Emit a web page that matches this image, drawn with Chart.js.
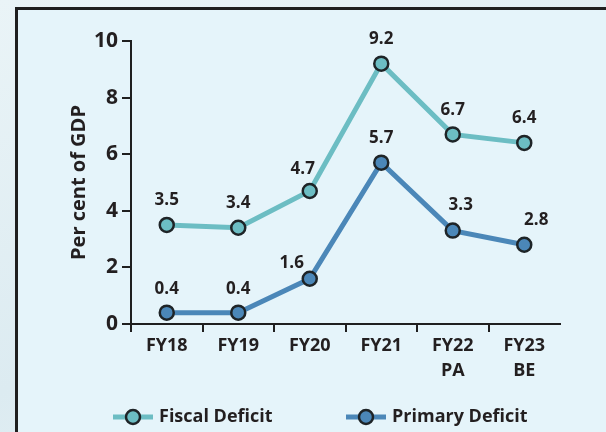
<!DOCTYPE html>
<html>
<head>
<meta charset="utf-8">
<script src="https://cdn.jsdelivr.net/npm/chart.js@4.4.1/dist/chart.umd.min.js"></script>
<style>
  html, body { margin: 0; padding: 0; }
  body {
    width: 606px; height: 432px; overflow: hidden; position: relative;
    background: linear-gradient(160deg, #eaf4f7 0%, #dcebf1 60%, #e6f1f5 100%);
  }
  #frame {
    position: absolute; left: 15px; top: 7px; width: 640px; height: 460px;
    border: 3px solid #1f1f1f; background: #e5f4fa;
  }
  #chart { position: absolute; left: 0; top: 0; }
</style>
</head>
<body>
<div id="frame"></div>
<canvas id="chart" width="606" height="432"></canvas>
<script>
"use strict";
// values as printed on the chart (per cent of GDP)
const years = ['FY18', 'FY19', 'FY20', 'FY21', ['FY22', 'PA'], ['FY23', 'BE']];
const fiscalDeficit = [3.5, 3.4, 4.7, 9.2, 6.7, 6.4];
const primaryDeficit = [0.4, 0.4, 1.6, 5.7, 3.3, 2.8];
const yTicks = [0, 2, 4, 6, 8, 10];

const textColor = '#231f20';
const fiscalColor = '#6cbdc3';
const primaryColor = '#4b87b8';
const dotEdge = '#1e2427';
const axisColor = '#1f1f1f';
const font = "'Open Sans', 'Noto Sans', sans-serif";

// small nudges so value labels sit where the original puts them
const fiscalShift = [[0, 25], [0, 25], [-7, 22], [0, 24], [0, 24], [0, 25]];
const primaryShift = [[0, 24], [0, 24], [-18, 16], [0, 25], [8, 25], [12, 25]];

const valueLabels = {
    id: 'valueLabels',
    afterDatasetsDraw(chart) {
        const ctx = chart.ctx;
        const shifts = [fiscalShift, primaryShift];
        ctx.save();
        ctx.font = 'bold 17px ' + font;
        ctx.fillStyle = textColor;
        ctx.textAlign = 'center';
        ctx.textBaseline = 'middle';
        chart.data.datasets.forEach((ds, d) => {
            const meta = chart.getDatasetMeta(d);
            meta.data.forEach((pt, i) => {
                const s = shifts[d][i];
                ctx.fillText(ds.data[i].toFixed(1), pt.x + s[0], pt.y - s[1]);
            });
        });
        ctx.restore();
    }
};

// legend drawn as line + dot, like the original
const lineLegend = {
    id: 'lineLegend',
    afterDraw(chart) {
        const ctx = chart.ctx;
        const starts = [113, 346];
        const y = 417;
        ctx.save();
        chart.data.datasets.forEach((ds, d) => {
            const x0 = starts[d];
            ctx.strokeStyle = ds.borderColor;
            ctx.lineWidth = 5;
            ctx.beginPath();
            ctx.moveTo(x0, y);
            ctx.lineTo(x0 + 40, y);
            ctx.stroke();
            ctx.beginPath();
            ctx.arc(x0 + 20, y, 7, 0, Math.PI * 2);
            ctx.fillStyle = ds.pointBackgroundColor;
            ctx.fill();
            ctx.lineWidth = 2.5;
            ctx.strokeStyle = dotEdge;
            ctx.stroke();
            ctx.font = 'bold 18px ' + font;
            ctx.fillStyle = textColor;
            ctx.textAlign = 'left';
            ctx.textBaseline = 'middle';
            ctx.fillText(ds.label, x0 + 46, y);
        });
        ctx.restore();
    }
};

const chart = new Chart(document.getElementById('chart'), {
    type: 'line',
    data: {
        labels: years,
        datasets: [
            {
                label: 'Fiscal Deficit',
                data: fiscalDeficit,
                borderColor: fiscalColor,
                backgroundColor: fiscalColor,
                pointBackgroundColor: fiscalColor,
                pointBorderColor: dotEdge,
                borderWidth: 5,
                pointRadius: 7,
                pointBorderWidth: 2.5,
                tension: 0
            },
            {
                label: 'Primary Deficit',
                data: primaryDeficit,
                borderColor: primaryColor,
                backgroundColor: primaryColor,
                pointBackgroundColor: primaryColor,
                pointBorderColor: dotEdge,
                borderWidth: 5,
                pointRadius: 7,
                pointBorderWidth: 2.5,
                tension: 0
            }
        ]
    },
    options: {
        responsive: false,
        animation: false,
        layout: { padding: { left: 40, right: 46, top: 41, bottom: 0 } },
        plugins: {
            legend: { display: false },
            tooltip: { enabled: false }
        },
        scales: {
            x: {
                offset: true,
                afterFit(scale) { scale.height = 108; },
                grid: {
                    offset: true,
                    drawOnChartArea: false,
                    drawTicks: true,
                    tickLength: 8,
                    lineWidth: 2,
                    // no tick at the far right end of the axis
                    color: (c) => c.type === 'tick' ? axisColor : 'rgba(0,0,0,0)'
                },
                border: { display: true, color: axisColor, width: 2 },
                ticks: {
                    color: textColor,
                    padding: 2,
                    maxRotation: 0,
                    font: { family: font, size: 18, weight: 'bold', lineHeight: 1.36 }
                }
            },
            y: {
                min: 0,
                max: 10,
                afterFit(scale) { scale.width = 91; },
                afterBuildTicks(scale) { scale.ticks = yTicks.map(v => ({ value: v })); },
                grid: {
                    drawOnChartArea: false,
                    drawTicks: true,
                    tickLength: 9,
                    lineWidth: 2,
                    color: axisColor
                },
                border: { display: true, color: axisColor, width: 2 },
                ticks: {
                    color: textColor,
                    padding: 4,
                    font: { family: font, size: 21, weight: 'bold' }
                },
                title: {
                    display: true,
                    text: 'Per cent of GDP',
                    color: textColor,
                    padding: { top: 27, bottom: 0 },
                    font: { family: font, size: 20, weight: 'bold' }
                }
            }
        }
    },
    plugins: [valueLabels, lineLegend]
});
</script>
</body>
</html>
